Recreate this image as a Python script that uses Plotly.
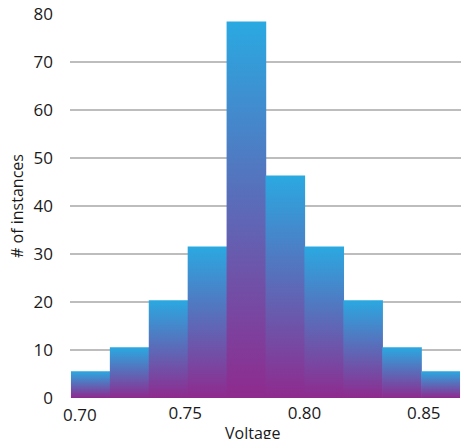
import plotly.graph_objects as go

# Histogram data
bin_start = 0.7021
bin_width = 0.01631
counts = [5.6, 10.6, 20.4, 31.6, 78.5, 46.4, 31.6, 20.4, 10.6, 5.6]
x_ticks = [0.75, 0.80, 0.85]
x_tick_labels = ["0.75", "0.80", "0.85"]
first_tick_label = "0.70"
y_ticks = [0, 10, 20, 30, 40, 50, 60, 70, 80]

BLUE = "#2aa9e1"
PURPLE = "#8f2a8e"
FONT = "Open Sans"
TXT = "#1a1a1a"

fig = go.Figure()
overlap = 0.0003
for i, c in enumerate(counts):
    x0 = bin_start + i * bin_width
    x1 = x0 + bin_width + (overlap if i < len(counts) - 1 else 0)
    fig.add_trace(go.Scatter(
        x=[x0, x1, x1, x0, x0],
        y=[0, 0, c, c, 0],
        mode="lines",
        fill="toself",
        line=dict(width=0),
        fillgradient=dict(type="vertical",
                          colorscale=[[0, PURPLE], [1, BLUE]]),
        hoverinfo="skip",
        showlegend=False,
    ))

x_lo = bin_start - 0.0004
x_hi = bin_start + len(counts) * bin_width + 0.0004

fig.add_annotation(
    x=0.7059, xref="x", y=0, yref="paper", yanchor="top", yshift=-3,
    text=first_tick_label, showarrow=False,
    font=dict(family=FONT, size=17, color=TXT),
)
fig.add_annotation(
    x=0.467, xref="paper", y=-0.056, yref="paper", yanchor="top",
    text="Voltage", showarrow=False,
    font=dict(family=FONT, size=16, color=TXT),
)

fig.update_layout(
    width=462, height=439,
    margin=dict(l=70, r=1, t=14, b=41),
    plot_bgcolor="white", paper_bgcolor="white",
    font=dict(family=FONT, size=17, color=TXT),
    xaxis=dict(
        range=[x_lo, x_hi],
        tickvals=x_ticks, ticktext=x_tick_labels,
        showgrid=False, zeroline=False, showline=False,
        ticks="", ticklabelstandoff=3, automargin=False,
        tickfont=dict(family=FONT, size=17, color=TXT),
    ),
    yaxis=dict(
        range=[0, 80.05],
        tickvals=y_ticks,
        showgrid=True, gridcolor="#bdbdbd", gridwidth=1.5,
        zeroline=False, showline=False,
        ticks="", ticklabelstandoff=16, automargin=False,
        ticklabeloverflow="allow",
        tickfont=dict(family=FONT, size=17, color=TXT),
        title=dict(text="# of instances", standoff=5,
                   font=dict(family=FONT, size=16, color=TXT)),
    ),
)

fig.write_html(
    "out.html",
    config={"displayModeBar": False},
    post_script="document.body.style.margin='0';document.body.style.overflow='hidden';",
)
